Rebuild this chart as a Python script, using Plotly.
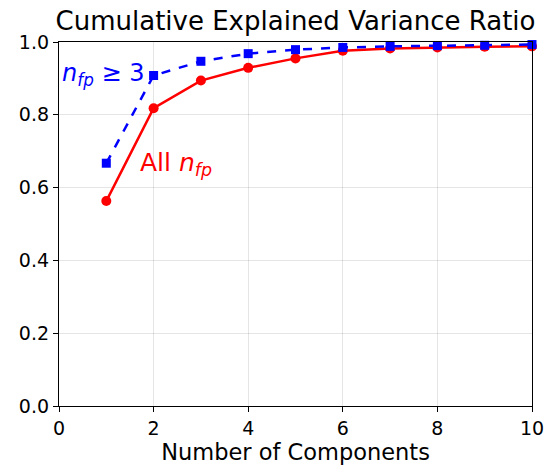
import plotly.graph_objects as go

components = [1, 2, 3, 4, 5, 6, 7, 8, 9, 10]
all_nfp = [0.563, 0.818, 0.894, 0.929, 0.955, 0.976, 0.982, 0.985, 0.987, 0.988]
nfp_ge3 = [0.667, 0.908, 0.947, 0.968, 0.979, 0.985, 0.988, 0.990, 0.991, 0.993]
x_ticks = [0, 2, 4, 6, 8, 10]
y_ticks = [0.0, 0.2, 0.4, 0.6, 0.8, 1.0]

fig = go.Figure()
fig.add_trace(go.Scatter(x=components, y=all_nfp, mode="lines+markers",
                         line=dict(color="red", width=2.5),
                         marker=dict(symbol="circle", size=10, color="red"),
                         cliponaxis=False, showlegend=False))
fig.add_trace(go.Scatter(x=components, y=nfp_ge3, mode="lines+markers",
                         line=dict(color="blue", width=2.5, dash="dash"),
                         marker=dict(symbol="square", size=9, color="blue"),
                         cliponaxis=False, showlegend=False))

fig.add_annotation(x=0.02, y=0.91, xref="x", yref="y", xanchor="left", yanchor="middle",
                   text="<i>n</i><sub><i>fp</i></sub> ≥ 3", showarrow=False,
                   font=dict(color="blue", size=24))
fig.add_annotation(x=1.66, y=0.665, xref="x", yref="y", xanchor="left", yanchor="middle",
                   text="All <i>n</i><sub><i>fp</i></sub>", showarrow=False,
                   font=dict(color="red", size=25))

axis_common = dict(showline=True, linecolor="black", linewidth=1.3, mirror=True,
                   ticks="outside", ticklen=5, tickcolor="black", tickwidth=1.2,
                   showgrid=True, gridcolor="rgba(0,0,0,0.1)", gridwidth=1,
                   zeroline=False, automargin=False,
                   tickfont=dict(size=19, color="black"))

fig.update_layout(
    width=548, height=468,
    margin=dict(l=59, r=16, t=42, b=62),
    plot_bgcolor="white", paper_bgcolor="white",
    font=dict(family="DejaVu Sans", color="black"),
    title=dict(text="Cumulative Explained Variance Ratio", x=0.5, xref="paper",
               xanchor="center", y=0.955, yanchor="middle",
               font=dict(size=26, color="black")),
    xaxis=dict(range=[0, 10], tickvals=x_ticks, ticktext=[str(t) for t in x_ticks],
               title=dict(text="Number of Components", font=dict(size=22.5), standoff=4),
               **axis_common),
    yaxis=dict(range=[0, 1], tickvals=y_ticks, ticktext=[f"{t:.1f}" for t in y_ticks],
               **axis_common),
)

fig.write_html("out.html")
